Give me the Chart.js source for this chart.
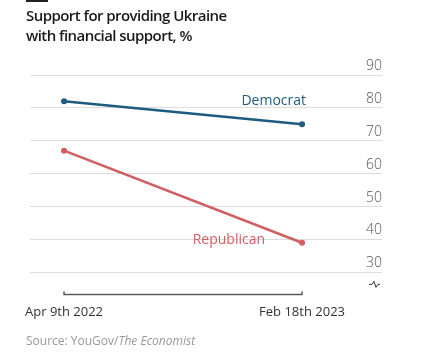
<!DOCTYPE html>
<html>
<head>
<meta charset="utf-8">
<script src="https://cdn.jsdelivr.net/npm/chart.js@4/dist/chart.umd.min.js"></script>
<style>
  html, body { margin: 0; padding: 0; background: #fff; }
  #wrap { position: relative; width: 422px; height: 355px; overflow: hidden; font-family: "Open Sans", sans-serif; }
  #rule { position: absolute; left: 26px; top: 0px; width: 22px; height: 2px; background: #222; }
  #title { position: absolute; left: 26px; top: 5px; font-size: 15px; line-height: 20px; font-weight: 600; color: #1a1a1a; letter-spacing: -0.55px; }
  #source { position: absolute; left: 26px; top: 332px; font-size: 12px; color: #999; }
  canvas { position: absolute; left: 0; top: 0; }
</style>
</head>
<body>
<div id="wrap">
  <canvas id="c" width="422" height="355"></canvas>
  <div id="rule"></div>
  <div id="title">Support for providing Ukraine<br>with financial support, %</div>
  <div id="source">Source: YouGov/<i>The Economist</i></div>
</div>
<script>
const categories = ['Apr 9th 2022', 'Feb 18th 2023'];
const democrat = [82, 75];
const republican = [67, 39];
const yTicks = [30, 40, 50, 60, 70, 80, 90];
const seriesNames = ['Democrat', 'Republican'];

const blue = '#1d5b80';
const red = '#cf5f62';

const toPoints = arr => arr.map((v, i) => ({ x: i, y: v }));

const extras = {
  id: 'extras',
  afterDatasetsDraw(chart) {
    const ctx = chart.ctx;
    const xs = chart.scales.x;
    const ca = chart.chartArea;
    ctx.save();
    const x0 = xs.getPixelForValue(0), x1 = xs.getPixelForValue(1);
    const yb = ca.bottom;
    ctx.strokeStyle = '#5a5a5a';
    ctx.lineWidth = 1.5;
    ctx.beginPath();
    ctx.moveTo(x0, yb - 3); ctx.lineTo(x0, yb); ctx.lineTo(x1, yb); ctx.lineTo(x1, yb - 3);
    ctx.stroke();
    const bx = ca.right - 8, by = chart.scales.y.getPixelForValue(30) + 12;
    ctx.lineWidth = 1;
    ctx.strokeStyle = '#333';
    ctx.beginPath();
    ctx.moveTo(bx - 5, by);
    ctx.lineTo(bx - 2, by);
    ctx.lineTo(bx, by - 3);
    ctx.lineTo(bx + 2, by + 3);
    ctx.lineTo(bx + 4, by);
    ctx.lineTo(bx + 6, by);
    ctx.stroke();
    ctx.font = '14px "Open Sans", sans-serif';
    ctx.textBaseline = 'middle';
    ctx.textAlign = 'right';
    const d = chart.getDatasetMeta(0).data[1];
    ctx.fillStyle = blue;
    ctx.fillText(seriesNames[0], d.x + 4, d.y - 23);
    const r = chart.getDatasetMeta(1).data[1];
    ctx.fillStyle = red;
    ctx.fillText(seriesNames[1], r.x - 37, r.y - 3);
    ctx.restore();
  }
};

new Chart(document.getElementById('c'), {
  type: 'line',
  data: {
    datasets: [
      { label: seriesNames[0], data: toPoints(democrat), borderColor: blue, backgroundColor: blue, borderWidth: 2.5, pointRadius: 3, pointBorderWidth: 0 },
      { label: seriesNames[1], data: toPoints(republican), borderColor: red, backgroundColor: red, borderWidth: 2.5, pointRadius: 3, pointBorderWidth: 0 }
    ]
  },
  options: {
    responsive: false,
    animation: false,
    events: [],
    layout: { padding: { left: 30, right: 40, top: 75, bottom: 25 } },
    plugins: { legend: { display: false }, tooltip: { enabled: false }, title: { display: false } },
    scales: {
      x: {
        type: 'linear',
        min: -0.143,
        max: 1.336,
        afterBuildTicks: s => { s.ticks = categories.map((c, i) => ({ value: i })); },
        ticks: { callback: v => categories[v], color: '#333', font: { family: 'Open Sans', size: 13 }, padding: 10, maxRotation: 0, autoSkip: false },
        grid: { display: false, drawTicks: false },
        border: { display: false }
      },
      y: {
        position: 'right',
        min: 23.3,
        max: 90,
        afterBuildTicks: s => { s.ticks = yTicks.map(v => ({ value: v })); },
        ticks: { mirror: true, padding: 0, labelOffset: -9, color: '#555', font: { family: 'Open Sans', size: 14, weight: 300 } },
        grid: { color: '#dcdcdc', lineWidth: 1, drawTicks: false },
        border: { display: false }
      }
    }
  },
  plugins: [extras]
});
</script>
</body>
</html>
